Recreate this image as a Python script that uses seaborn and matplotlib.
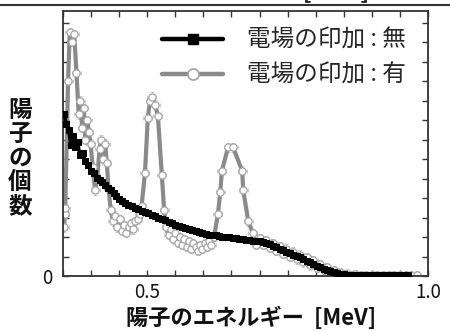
import numpy as np
import pandas as pd
import matplotlib
matplotlib.use("Agg")
import matplotlib.pyplot as plt
from matplotlib.lines import Line2D
import seaborn as sns

# ---------------- data ----------------
black_x = [0.352, 0.356, 0.360, 0.364, 0.368, 0.372, 0.376, 0.380, 0.385, 0.390,
           0.395, 0.400, 0.405, 0.410, 0.415, 0.420, 0.425, 0.430, 0.435, 0.440,
           0.445, 0.450, 0.455, 0.460, 0.466, 0.472, 0.478, 0.484, 0.490, 0.496,
           0.502, 0.508, 0.514, 0.520, 0.526, 0.532, 0.538, 0.544, 0.550, 0.556,
           0.562, 0.568, 0.574, 0.580, 0.586, 0.592, 0.598, 0.604, 0.610, 0.616,
           0.622, 0.628, 0.634, 0.640, 0.646, 0.652, 0.658, 0.664, 0.670, 0.676,
           0.682, 0.688, 0.694, 0.700, 0.706, 0.712, 0.718, 0.724, 0.730, 0.736,
           0.742, 0.748, 0.754, 0.760, 0.766, 0.772, 0.778, 0.784, 0.790, 0.796,
           0.802, 0.808, 0.814, 0.820, 0.826, 0.832, 0.838, 0.844, 0.850, 0.856,
           0.862, 0.870, 0.878, 0.886, 0.894, 0.902, 0.910, 0.918, 0.926, 0.934,
           0.942, 0.950, 0.958, 0.964]
black_y = [8.3, 7.8, 7.5, 6.7, 7.2, 6.6, 6.9, 6.2, 6.3, 5.9,
           5.7, 5.4, 5.3, 5.05, 4.95, 4.8, 4.65, 4.5, 4.4, 4.25,
           4.1, 3.95, 3.85, 3.75, 3.65, 3.6, 3.5, 3.42, 3.35, 3.3,
           3.22, 3.15, 3.08, 3.0, 2.92, 2.85, 2.78, 2.7, 2.62, 2.55,
           2.5, 2.45, 2.4, 2.35, 2.3, 2.25, 2.2, 2.15, 2.12, 2.1,
           2.08, 2.05, 2.02, 2.0, 1.98, 1.95, 1.93, 1.9, 1.88, 1.86,
           1.84, 1.82, 1.8, 1.78, 1.75, 1.7, 1.62, 1.55, 1.47, 1.4,
           1.33, 1.25, 1.18, 1.1, 1.02, 0.95, 0.87, 0.78, 0.7, 0.62,
           0.53, 0.45, 0.38, 0.32, 0.26, 0.2, 0.15, 0.11, 0.08, 0.06,
           0.05, 0.05, 0.05, 0.05, 0.05, 0.05, 0.05, 0.05, 0.05, 0.05,
           0.05, 0.05, 0.05, 0.05]

gray_x = [0.352, 0.353, 0.354, 0.359, 0.362, 0.366, 0.370, 0.374, 0.378, 0.381,
          0.384, 0.387, 0.390, 0.393, 0.396, 0.399, 0.403, 0.407, 0.411, 0.415,
          0.418, 0.421, 0.425, 0.428, 0.431, 0.435, 0.439, 0.443, 0.447, 0.451,
          0.455, 0.459, 0.463, 0.467, 0.471, 0.475, 0.479, 0.483, 0.487, 0.490,
          0.496, 0.501, 0.505, 0.508, 0.514, 0.519, 0.526, 0.530, 0.534, 0.538,
          0.542, 0.546, 0.550, 0.554, 0.558, 0.562, 0.566, 0.570, 0.574, 0.578,
          0.582, 0.586, 0.590, 0.594, 0.598, 0.602, 0.606, 0.610, 0.614, 0.619,
          0.626, 0.630, 0.633, 0.644, 0.653, 0.669, 0.671, 0.680, 0.688, 0.694,
          0.700, 0.706, 0.712, 0.718, 0.724, 0.730, 0.736, 0.742, 0.748, 0.754,
          0.760, 0.766, 0.772, 0.778, 0.784, 0.790, 0.796, 0.802, 0.808, 0.814,
          0.820, 0.826, 0.832, 0.838, 0.844, 0.850, 0.856, 0.862, 0.870, 0.880,
          0.890, 0.900, 0.910, 0.920, 0.930, 0.940, 0.950, 0.960, 0.970, 0.980]
gray_y = [2.5, 3.2, 3.5, 10.0, 12.5, 12.0, 12.4, 10.4, 8.3, 9.0,
          7.6, 8.6, 7.0, 8.0, 7.4, 6.8, 5.6, 4.4, 5.0, 6.5,
          7.0, 6.0, 6.8, 5.8, 4.5, 3.4, 2.8, 3.1, 2.5, 2.9,
          2.3, 2.6, 2.2, 2.5, 2.7, 2.4, 2.8, 2.9, 3.2, 3.6,
          5.3, 8.1, 9.0, 9.2, 8.8, 8.2, 5.2, 3.4, 2.5, 2.1,
          2.4, 1.9, 2.2, 1.7, 2.0, 1.6, 1.9, 1.5, 1.8, 1.4,
          1.7, 1.5, 1.3, 1.6, 1.4, 1.7, 1.5, 1.8, 1.6, 2.0,
          3.2, 4.3, 5.4, 6.6, 6.6, 5.4, 4.4, 2.8, 2.2, 1.6,
          1.95, 1.6, 1.85, 1.45, 1.7, 1.3, 1.55, 1.15, 1.4, 1.0,
          1.25, 0.85, 1.1, 0.7, 0.95, 0.55, 0.8, 0.4, 0.6, 0.3,
          0.45, 0.2, 0.3, 0.1, 0.2, 0.08, 0.12, 0.05, 0.08, 0.05,
          0.06, 0.05, 0.05, 0.06, 0.05, 0.05, 0.05, 0.05, 0.05, 0.05]

series_labels = ["電場の印加 : 無", "電場の印加 : 有"]
x_tick_values = [0.35, 0.40, 0.45, 0.50, 0.55, 0.60, 0.65, 0.70, 0.75, 0.80, 0.85, 0.90, 0.95, 1.00]
x_tick_labels = ["", "", "", "0.5", "", "", "", "", "", "", "", "", "", "1.0"]
y_tick_values = list(range(0, 14))
y_tick_labels = ["0"] + [""] * 13
x_title = "陽子のエネルギー  [MeV]"
y_title = "陽子の個数"
top_cut_title = "陽子のエネルギー  [MeV]"

# ---------------- style ----------------
sns.set_style("ticks")
plt.rcParams['font.family'] = ['Noto Sans CJK JP', 'DejaVu Sans']

fig = plt.figure(figsize=(4.5, 3.31), dpi=100)
ax = fig.add_axes([63/450, 1 - 276/331, (428 - 63)/450, (276 - 11)/331])

black_df = pd.DataFrame({"x": black_x, "y": black_y})
gray_df = pd.DataFrame({"x": gray_x, "y": gray_y})

gray_line = "#8a8a8a"
gray_edge = "#a4a4a4"

# gray error crosses
ax.errorbar(gray_df["x"], gray_df["y"], xerr=0.008, yerr=0.22, fmt="none",
            ecolor="#c4c4c4", elinewidth=0.8, capsize=1.5, capthick=0.6, zorder=1)

sns.lineplot(data=gray_df, x="x", y="y", ax=ax, sort=False, estimator=None,
             color=gray_line, linewidth=3.0, marker="o", markersize=5.2,
             markerfacecolor="white", markeredgecolor=gray_edge,
             markeredgewidth=0.9, zorder=2)

sns.lineplot(data=black_df, x="x", y="y", ax=ax, sort=False, estimator=None,
             color="black", linewidth=2.4, marker="s", markersize=4.0,
             markerfacecolor="black", markeredgecolor="black", zorder=3)

ax.set_xlim(0.35, 1.0)
ax.set_ylim(0, 13.6)
ax.set_xticks(x_tick_values)
ax.set_xticklabels(x_tick_labels)
ax.set_yticks(y_tick_values)
ax.set_yticklabels(y_tick_labels)
ax.tick_params(axis="both", which="both", direction="in", top=True, right=True,
               length=4, width=1, colors="#333333", labelcolor="#111111",
               labelsize=13.5)
ax.tick_params(axis="x", pad=4)
ax.tick_params(axis="y", pad=8)
for s in ax.spines.values():
    s.set_linewidth(1.3)
    s.set_color("#333333")
    s.set_visible(True)

ax.set_xlabel("")
ax.set_ylabel("")

# x title
fig.text(251/450, 1 - 318/331, x_title, ha="center", va="center",
         fontsize=16, fontweight="bold", color="#111111")
# stacked y title
fig.text(20/450, 1 - 158/331, "\n".join(y_title), ha="center", va="center",
         fontsize=17, fontweight="bold", color="#111111", linespacing=1.0)

# cut title of the chart above + separator line
fig.text(236/450, 1 - 3.5/331, top_cut_title, ha="center", va="bottom",
         fontsize=17, fontweight="bold", color="#222222")
fig.add_artist(Line2D([0, 1], [1 - 5/331, 1 - 5/331], color="#333333", lw=1.5))

handles = [
    Line2D([0], [0], color="black", lw=3.2, marker="s", markersize=6.5,
           markerfacecolor="black", markeredgecolor="black"),
    Line2D([0], [0], color=gray_line, lw=3.2, marker="o", markersize=8,
           markerfacecolor="white", markeredgecolor=gray_edge, markeredgewidth=1.2),
]
ax.legend(handles, series_labels, loc="upper left",
          bbox_to_anchor=((162 - 63)/365, (276 - 29)/265), frameon=False,
          fontsize=17, handlelength=2.6, handletextpad=1.0, labelspacing=0.5,
          borderpad=0, borderaxespad=0)

fig.savefig("out.png", dpi=100)
